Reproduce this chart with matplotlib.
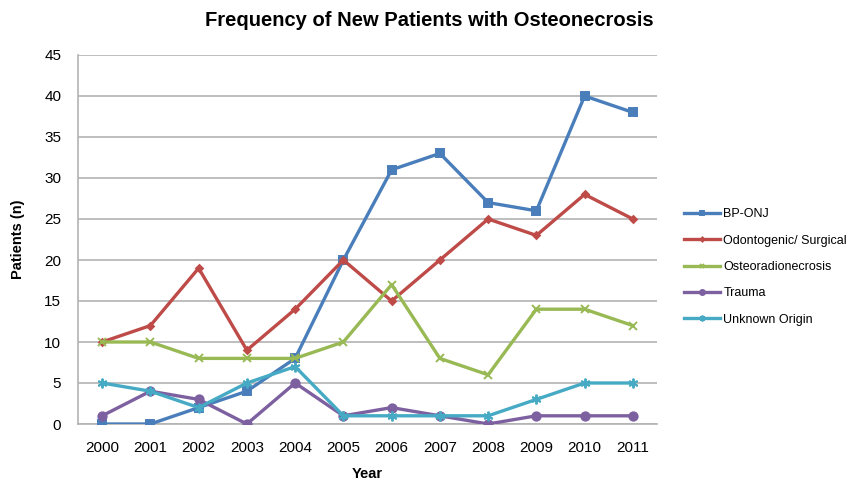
import matplotlib.pyplot as plt
import numpy as np

plt.rcParams['font.family'] = ['Liberation Sans', 'DejaVu Sans']

years = ['2000', '2001', '2002', '2003', '2004', '2005',
         '2006', '2007', '2008', '2009', '2010', '2011']
bp_onj = [0, 0, 2, 4, 8, 20, 31, 33, 27, 26, 40, 38]
odontogenic = [10, 12, 19, 9, 14, 20, 15, 20, 25, 23, 28, 25]
osteoradio = [10, 10, 8, 8, 8, 10, 17, 8, 6, 14, 14, 12]
trauma = [1, 4, 3, 0, 5, 1, 2, 1, 0, 1, 1, 1]
unknown = [5, 4, 2, 5, 7, 1, 1, 1, 1, 3, 5, 5]

series = [
    ('BP-ONJ', bp_onj, '#4A7EBB', 's', 5.5),
    ('Odontogenic/ Surgical', odontogenic, '#BE4B48', 'D', 3.5),
    ('Osteoradionecrosis', osteoradio, '#98B954', 'x', 6),
    ('Trauma', trauma, '#7D60A0', 'o', 6),
    ('Unknown Origin', unknown, '#46AAC5', (6, 2, 0), 7),
]

fig = plt.figure(figsize=(8.58, 4.82), dpi=100)
ax = fig.add_axes([78 / 858, 1 - 424 / 482, (657 - 78) / 858, (424 - 55) / 482])

x = np.arange(len(years))
for name, vals, color, marker, ms in series:
    ax.plot(x, vals, color=color, lw=2.4, marker=marker, markersize=ms,
            markeredgecolor=color, markerfacecolor=color, markeredgewidth=1.4,
            label=name, zorder=3)

ax.set_xlim(-0.5, len(years) - 0.5)
ax.set_ylim(0, 45)
ax.set_yticks(np.arange(0, 46, 5))
ax.set_xticks(x)
ax.set_xticklabels(years)
ax.grid(axis='y', color='#B3B3B3', lw=1.2)
ax.set_axisbelow(True)
for side in ['top', 'right']:
    ax.spines[side].set_visible(False)
for side in ['left', 'bottom']:
    ax.spines[side].set_color('#B3B3B3')
    ax.spines[side].set_linewidth(1.2)
ax.tick_params(axis='x', length=0, labelsize=11, pad=12)
ax.tick_params(axis='y', length=0, labelsize=11, pad=12)

ax.set_xlabel('Year', fontsize=10.5, fontweight='bold', labelpad=9)
ax.set_ylabel('Patients (n)', fontsize=10.5, fontweight='bold', labelpad=14)
fig.text(0.5, 1 - 20 / 482, 'Frequency of New Patients with Osteonecrosis',
         ha='center', va='center', fontsize=14.5, fontweight='bold')

ax.legend(loc='center left', bbox_to_anchor=(679 / 858, 1 - 267 / 482),
          bbox_transform=fig.transFigure, frameon=False, fontsize=9,
          handlelength=2.9, labelspacing=1.15, handletextpad=0.25,
          markerscale=0.6, borderaxespad=0)

fig.savefig('out.png', dpi=100)
